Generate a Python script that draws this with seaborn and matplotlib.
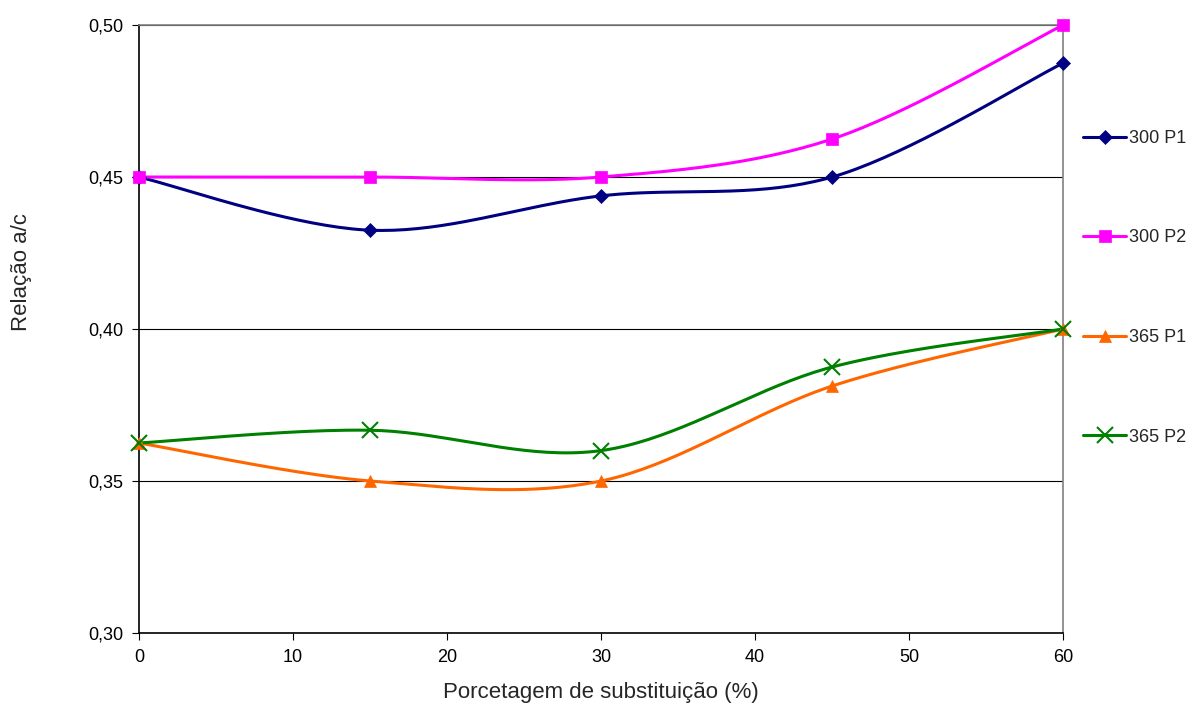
import numpy as np
import pandas as pd
import seaborn as sns
import matplotlib.pyplot as plt
from matplotlib.lines import Line2D

# Data
substituicao = [0, 15, 30, 45, 60]
p300_p1 = [0.450, 0.4325, 0.4438, 0.450, 0.4875]
p300_p2 = [0.450, 0.450, 0.450, 0.4625, 0.500]
p365_p1 = [0.3625, 0.350, 0.350, 0.38125, 0.400]
p365_p2 = [0.3625, 0.3667, 0.360, 0.3875, 0.400]

series_names = ["300 P1", "300 P2", "365 P1", "365 P2"]
series_values = [p300_p1, p300_p2, p365_p1, p365_p2]
colors = ["#000080", "#FF00FF", "#FF6600", "#008000"]
markers = ["D", "s", "^", "x"]
msizes = [7, 9, 9, 11]


def smooth(x, y, n=40):
    # Excel-like smoothed line (Bezier through the points)
    pts = np.column_stack([x, y]).astype(float)
    ext = np.vstack([pts[0], pts, pts[-1]])
    out = []
    for i in range(1, len(ext) - 2):
        p0, p1, p2, p3 = ext[i - 1], ext[i], ext[i + 1], ext[i + 2]
        c1 = p1 + (p2 - p0) / 6
        c2 = p2 - (p3 - p1) / 6
        t = np.linspace(0, 1, n)[:, None]
        seg = ((1 - t) ** 3) * p1 + 3 * ((1 - t) ** 2) * t * c1 + 3 * (1 - t) * t ** 2 * c2 + t ** 3 * p2
        out.append(seg if i == 1 else seg[1:])
    seg = np.vstack(out)
    return seg[:, 0], seg[:, 1]


sns.set_style("white")
plt.rcParams["font.family"] = ["Liberation Sans", "DejaVu Sans"]

fig = plt.figure(figsize=(11.89, 7.07), dpi=100)
ax = fig.add_axes([0.1169, 0.1047, 0.8942 - 0.1169, 0.9646 - 0.1047])

handles = []
for name, vals, c, m, ms in zip(series_names, series_values, colors, markers, msizes):
    sx, sy = smooth(substituicao, vals)
    sns.lineplot(x=sx, y=sy, ax=ax, color=c, linewidth=2.2, sort=False, estimator=None, zorder=3)
    ax.plot(substituicao, vals, linestyle="none", marker=m, color=c, markersize=ms,
            markeredgewidth=1.5 if m == "x" else 0.5, zorder=4, clip_on=False)
    handles.append(Line2D([0], [0], color=c, linewidth=2.2, marker=m, markersize=ms,
                          markeredgewidth=1.5 if m == "x" else 0.5, label=name))

ax.set_xlim(0, 60)
ax.set_ylim(0.30, 0.50)
ax.set_xticks(range(0, 61, 10))
ax.set_yticks([0.30, 0.35, 0.40, 0.45, 0.50])
ax.set_yticklabels(["0,30", "0,35", "0,40", "0,45", "0,50"])
ax.tick_params(axis="both", labelsize=13, length=5, width=0.8, direction="out",
               left=True, bottom=True, pad=6.5, colors="black")
ax.yaxis.grid(True, color="black", linewidth=0.8)
ax.set_axisbelow(True)
for side in ["left", "bottom"]:
    ax.spines[side].set_color("black")
    ax.spines[side].set_linewidth(1.2)
for side in ["top", "right"]:
    ax.spines[side].set_color("#808080")
    ax.spines[side].set_linewidth(1.2)

ax.set_xlabel("Porcetagem de substituição (%)", fontsize=16)
ax.set_ylabel("Relação a/c", fontsize=16)
ax.xaxis.set_label_coords(0.5, -0.08)
ax.yaxis.set_label_coords(-0.1158, 0.594)

fig.legend(handles=handles, loc="center left", bbox_to_anchor=(0.9108, 0.593),
           frameon=False, fontsize=13, labelspacing=4.57, handlelength=2.4,
           handletextpad=0.17, borderpad=0, borderaxespad=0)

fig.savefig("out.png", dpi=100)
